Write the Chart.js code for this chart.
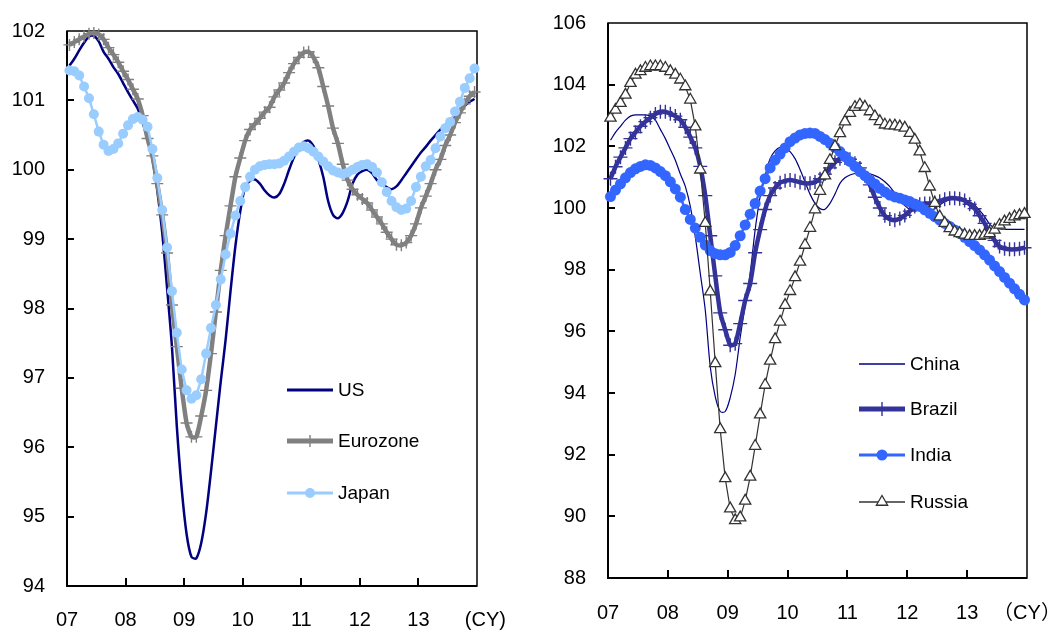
<!DOCTYPE html>
<html>
<head>
<meta charset="utf-8">
<script src="https://cdn.jsdelivr.net/npm/chart.js@4/dist/chart.umd.min.js"></script>
<style>
  body { margin: 0; background: #fff; }
  .panel { position: absolute; top: 0; height: 630px; }
  #left-panel { left: 0; width: 520px; }
  #right-panel { left: 530px; width: 526px; }
</style>
</head>
<body>
<div class="panel" id="left-panel"><canvas id="advanced-chart"></canvas></div>
<div class="panel" id="right-panel"><canvas id="emerging-chart"></canvas></div>
<script>
// x axis: one point per month, Jan 2007 .. Dec 2013
const leftYearLabels = ['07', '08', '09', '10', '11', '12', '13', '   (CY)'];
const rightYearLabels = ['07', '08', '09', '10', '11', '12', '13', '（CY）'];

// Advanced economies
const usValues = [
    101.50, 101.60, 101.72, 101.83, 101.92, 101.93, 101.85, 101.70, 101.60, 101.48, 101.38, 101.25,
    101.12, 101.00, 100.88, 100.68, 100.45, 100.15, 99.70, 99.10, 98.30, 97.45, 96.30, 95.40,
    94.75, 94.42, 94.40, 94.62, 95.05, 95.65, 96.30, 96.95, 97.55, 98.25, 98.90, 99.40,
    99.75, 99.84, 99.86, 99.80, 99.70, 99.63, 99.60, 99.65, 99.80, 100.00, 100.18, 100.32,
    100.40, 100.42, 100.34, 100.15, 99.90, 99.55, 99.35, 99.30, 99.38, 99.55, 99.80, 99.93,
    99.98, 100.00, 99.95, 99.85, 99.80, 99.75, 99.72, 99.76, 99.85, 99.95, 100.05, 100.15,
    100.25, 100.33, 100.42, 100.50, 100.58, 100.64, 100.72, 100.78, 100.85, 100.92, 100.98, 101.02
];
const eurozoneValues = [
    101.80, 101.84, 101.88, 101.92, 101.96, 101.97, 101.95, 101.88, 101.76, 101.66, 101.55, 101.42,
    101.30, 101.16, 101.02, 100.78, 100.45, 100.20, 99.80, 99.35, 98.80, 98.05, 97.45, 96.85,
    96.35, 96.15, 96.15, 96.45, 96.82, 97.35, 97.95, 98.55, 99.05, 99.48, 99.90, 100.17,
    100.42, 100.58, 100.66, 100.74, 100.83, 100.90, 101.05, 101.15, 101.25, 101.40, 101.53, 101.62,
    101.69, 101.70, 101.62, 101.47, 101.20, 100.92, 100.60, 100.38, 100.08, 99.85, 99.72, 99.64,
    99.58, 99.52, 99.42, 99.32, 99.22, 99.10, 99.00, 98.92, 98.91, 98.95, 99.05, 99.22,
    99.45, 99.62, 99.80, 100.00, 100.15, 100.35, 100.50, 100.68, 100.82, 100.95, 101.06, 101.12
];
const japanValues = [
    101.43, 101.42, 101.36, 101.20, 101.03, 100.80, 100.55, 100.36, 100.27, 100.30, 100.38, 100.52,
    100.64, 100.73, 100.76, 100.72, 100.62, 100.30, 99.88, 99.42, 98.88, 98.25, 97.65, 97.12,
    96.82, 96.70, 96.75, 96.98, 97.35, 97.72, 98.05, 98.42, 98.78, 99.08, 99.34, 99.55,
    99.75, 99.90, 100.00, 100.05, 100.07, 100.08, 100.08, 100.09, 100.13, 100.19, 100.26, 100.32,
    100.34, 100.31, 100.26, 100.19, 100.12, 100.05, 99.99, 99.96, 99.94, 99.96, 100.00, 100.04,
    100.07, 100.08, 100.04, 99.96, 99.82, 99.68, 99.55, 99.46, 99.42, 99.44, 99.55, 99.75,
    99.90, 100.05, 100.14, 100.31, 100.48, 100.60, 100.69, 100.84, 100.98, 101.18, 101.32, 101.46
];

// Emerging economies
const chinaValues = [
    102.20, 102.45, 102.65, 102.85, 102.98, 103.02, 103.02, 103.02, 102.98, 102.85, 102.55, 102.25,
    101.90, 101.55, 101.10, 100.70, 100.05, 99.07, 97.88, 96.69, 94.85, 93.88, 93.40, 93.40,
    93.85, 94.60, 95.80, 96.85, 97.88, 99.29, 100.37, 101.05, 101.60, 101.85, 101.97, 101.95,
    101.83, 101.60, 101.25, 100.85, 100.45, 100.15, 99.98, 99.96, 100.15, 100.45, 100.80, 100.98,
    101.07, 101.12, 101.15, 101.14, 101.11, 101.05, 100.97, 100.85, 100.69, 100.48, 100.26, 100.08,
    99.95, 99.94, 99.94, 99.90, 99.88, 99.98, 100.10, 100.20, 100.26, 100.28, 100.28, 100.26,
    100.20, 100.10, 99.92, 99.72, 99.48, 99.36, 99.32, 99.31, 99.31, 99.31, 99.31, 99.31
];
const brazilValues = [
    100.95, 101.34, 101.65, 101.95, 102.25, 102.45, 102.65, 102.80, 102.93, 103.05, 103.12, 103.12,
    103.06, 102.98, 102.86, 102.62, 102.30, 101.95, 101.35, 100.40, 99.10, 97.80, 96.60, 96.05,
    95.55, 95.60, 96.25, 97.00, 97.55, 98.55, 99.30, 99.95, 100.40, 100.65, 100.82, 100.88,
    100.91, 100.88, 100.83, 100.80, 100.80, 100.84, 100.95, 101.10, 101.30, 101.48, 101.60, 101.62,
    101.58, 101.45, 101.30, 101.05, 100.75, 100.35, 100.00, 99.75, 99.64, 99.60, 99.66, 99.76,
    99.90, 100.05, 100.12, 100.15, 100.15, 100.18, 100.22, 100.28, 100.32, 100.32, 100.30, 100.24,
    100.12, 99.98, 99.75, 99.50, 99.22, 98.95, 98.75, 98.68, 98.66, 98.66, 98.68, 98.71
];
const indiaValues = [
    100.37, 100.58, 100.78, 100.98, 101.15, 101.27, 101.35, 101.40, 101.38, 101.30, 101.18, 101.05,
    100.85, 100.62, 100.35, 99.95, 99.63, 99.35, 99.05, 98.80, 98.62, 98.52, 98.48, 98.48,
    98.56, 98.78, 99.10, 99.45, 99.80, 100.15, 100.55, 100.95, 101.30, 101.55, 101.75, 101.95,
    102.15, 102.27, 102.37, 102.42, 102.43, 102.42, 102.32, 102.22, 102.10, 101.97, 101.83, 101.67,
    101.51, 101.35, 101.18, 101.05, 100.91, 100.78, 100.64, 100.52, 100.42, 100.36, 100.32, 100.26,
    100.21, 100.13, 100.05, 99.94, 99.83, 99.72, 99.61, 99.50, 99.40, 99.29, 99.18, 99.05,
    98.91, 98.78, 98.64, 98.48, 98.31, 98.12, 97.94, 97.75, 97.56, 97.38, 97.20, 97.02
];
const russiaValues = [
    102.92, 103.18, 103.40, 103.67, 104.05, 104.32, 104.43, 104.54, 104.59, 104.59, 104.59, 104.54,
    104.43, 104.32, 104.16, 103.94, 103.51, 102.64, 101.24, 99.51, 97.29, 94.96, 92.82, 91.23,
    90.25, 89.87, 89.96, 90.50, 91.28, 92.28, 93.30, 94.26, 95.04, 95.74, 96.31, 96.85,
    97.30, 97.75, 98.25, 98.80, 99.35, 99.95, 100.55, 101.05, 101.55, 102.00, 102.42, 102.80,
    103.08, 103.27, 103.35, 103.28, 103.13, 102.97, 102.81, 102.70, 102.67, 102.67, 102.64, 102.60,
    102.43, 102.21, 101.83, 101.29, 100.69, 100.16, 99.72, 99.51, 99.34, 99.23, 99.18, 99.13,
    99.09, 99.09, 99.09, 99.13, 99.18, 99.29, 99.45, 99.56, 99.64, 99.72, 99.76, 99.80
];

const FONT = '"Liberation Sans", Arial, "Noto Sans CJK JP", sans-serif';

const toPoints = values => values.map((v, i) => ({x: i + 0.5, y: v}));

function drawMarker(ctx, ds, x, y) {
    const r = ds.pointRadius || 0;
    if (!r) return;
    ctx.save();
    ctx.lineWidth = ds.pointBorderWidth || 1;
    ctx.strokeStyle = ds.pointBorderColor || ds.borderColor;
    ctx.fillStyle = ds.pointBackgroundColor || ds.borderColor;
    ctx.beginPath();
    if (ds.pointStyle === 'cross') {
        ctx.moveTo(x - r, y); ctx.lineTo(x + r, y);
        ctx.moveTo(x, y - r); ctx.lineTo(x, y + r);
        ctx.stroke();
    } else if (ds.pointStyle === 'triangle') {
        const edge = 3 * r / Math.sqrt(3);
        const h = edge * Math.sqrt(3) / 2;
        ctx.moveTo(x - edge / 2, y + h / 3);
        ctx.lineTo(x + edge / 2, y + h / 3);
        ctx.lineTo(x, y - 2 * h / 3);
        ctx.closePath();
        ctx.fill(); ctx.stroke();
    } else {
        ctx.arc(x, y, r, 0, Math.PI * 2);
        ctx.fill();
    }
    ctx.restore();
}

// Box round the plot area, with short tick marks pointing inwards
const framePlugin = {
    id: 'frame',
    beforeDatasetsDraw(chart) {
        const {ctx, chartArea: a, scales: {x, y}} = chart;
        ctx.save();
        ctx.strokeStyle = '#000';
        ctx.lineWidth = 1.5;
        ctx.strokeRect(a.left, a.top, a.right - a.left, a.bottom - a.top);
        ctx.lineWidth = 2;
        ctx.beginPath();
        ctx.moveTo(a.left, a.top); ctx.lineTo(a.left, a.bottom); ctx.lineTo(a.right, a.bottom);
        x.ticks.forEach(t => {
            const px = Math.round(x.getPixelForValue(t.value));
            if (px <= a.left + 1 || px >= a.right - 1) return;
            ctx.moveTo(px, a.bottom); ctx.lineTo(px, a.bottom - 8);
        });
        y.ticks.forEach(t => {
            const py = Math.round(y.getPixelForValue(t.value));
            if (py <= a.top + 1 || py >= a.bottom - 1) return;
            ctx.moveTo(a.left, py); ctx.lineTo(a.left + 7, py);
        });
        ctx.stroke();
        ctx.restore();
    }
};

// Legend drawn inside the plot area
const insideLegendPlugin = {
    id: 'insideLegend',
    afterDraw(chart, args, opts) {
        const ctx = chart.ctx;
        chart.data.datasets.forEach((ds, i) => {
            const y = opts.rows[i];
            ctx.save();
            ctx.strokeStyle = ds.borderColor;
            ctx.lineWidth = ds.legendLineWidth || ds.borderWidth;
            ctx.beginPath();
            ctx.moveTo(opts.x1, y);
            ctx.lineTo(opts.x2, y);
            ctx.stroke();
            ctx.restore();
            drawMarker(ctx, ds, (opts.x1 + opts.x2) / 2, y);
            ctx.save();
            ctx.fillStyle = '#000';
            ctx.font = '19px ' + FONT;
            ctx.textBaseline = 'middle';
            ctx.textAlign = 'left';
            ctx.fillText(ds.label, opts.textX, y + 1);
            ctx.restore();
        });
    }
};

function buildOptions(cfg) {
    return {
        responsive: true,
        maintainAspectRatio: false,
        animation: false,
        layout: {padding: {top: cfg.padTop, right: cfg.padRight, left: 0, bottom: 0}},
        plugins: {
            legend: {display: false},
            tooltip: {enabled: false},
            insideLegend: cfg.legend
        },
        elements: {point: {hoverRadius: 0}},
        scales: {
            x: {
                type: 'linear',
                min: 0,
                max: 84,
                afterBuildTicks: scale => {
                    scale.ticks = cfg.xLabels.map((_, i) => ({value: i * 12}));
                },
                afterFit: scale => {
                    scale.height = cfg.xHeight;
                    scale.paddingLeft = 0;
                    scale.paddingRight = 0;
                },
                ticks: {
                    autoSkip: false,
                    maxRotation: 0,
                    padding: cfg.xPad,
                    color: '#000',
                    font: {family: FONT, size: 20},
                    callback: v => cfg.xLabels[Math.round(v / 12)]
                },
                grid: {display: false, drawTicks: false},
                border: {display: false}
            },
            y: {
                min: cfg.yMin,
                max: cfg.yMax,
                afterFit: scale => {
                    scale.width = cfg.yWidth;
                    scale.paddingTop = 0;
                    scale.paddingBottom = 0;
                },
                ticks: {
                    stepSize: cfg.yStep,
                    padding: cfg.yPad,
                    color: '#000',
                    font: {family: FONT, size: 20}
                },
                grid: {display: false, drawTicks: false},
                border: {display: false}
            }
        }
    };
}

new Chart(document.getElementById('advanced-chart'), {
    type: 'line',
    data: {
        datasets: [
            {
                label: 'US', data: toPoints(usValues), order: 3,
                borderColor: '#000080', borderWidth: 2.5, legendLineWidth: 3,
                pointRadius: 0, tension: 0.3, clip: false
            },
            {
                label: 'Eurozone', data: toPoints(eurozoneValues), order: 2,
                borderColor: '#808080', borderWidth: 4.5, legendLineWidth: 5,
                pointStyle: 'cross', pointRadius: 6, pointBorderWidth: 1.4,
                pointBorderColor: '#808080', tension: 0.2, clip: false
            },
            {
                label: 'Japan', data: toPoints(japanValues), order: 1,
                borderColor: '#99CCFF', borderWidth: 2.5, legendLineWidth: 3,
                pointStyle: 'circle', pointRadius: 5, pointBorderWidth: 0,
                pointBackgroundColor: '#99CCFF', pointBorderColor: '#99CCFF',
                tension: 0, clip: false
            }
        ]
    },
    options: buildOptions({
        padTop: 31, padRight: 43, xHeight: 44, yWidth: 67, xPad: 22, yPad: 22,
        yMin: 94, yMax: 102, yStep: 1, xLabels: leftYearLabels,
        legend: {x1: 287, x2: 333, textX: 338, rows: [390, 441, 493]}
    }),
    plugins: [framePlugin, insideLegendPlugin]
});

new Chart(document.getElementById('emerging-chart'), {
    type: 'line',
    data: {
        datasets: [
            {
                label: 'China', data: toPoints(chinaValues), order: 4,
                borderColor: '#000080', borderWidth: 1.2, legendLineWidth: 1.5,
                pointRadius: 0, tension: 0.3, clip: false
            },
            {
                label: 'Brazil', data: toPoints(brazilValues), order: 3,
                borderColor: '#333399', borderWidth: 4.5, legendLineWidth: 5,
                pointStyle: 'cross', pointRadius: 7, pointBorderWidth: 1.4,
                pointBorderColor: '#333399', tension: 0.2, clip: false
            },
            {
                label: 'India', data: toPoints(indiaValues), order: 2,
                borderColor: '#3366FF', borderWidth: 2.5, legendLineWidth: 3,
                pointStyle: 'circle', pointRadius: 5.5, pointBorderWidth: 0,
                pointBackgroundColor: '#3366FF', pointBorderColor: '#3366FF',
                tension: 0, clip: false
            },
            {
                label: 'Russia', data: toPoints(russiaValues), order: 1,
                borderColor: '#333333', borderWidth: 1.2, legendLineWidth: 1.5,
                pointStyle: 'triangle', pointRadius: 6.5, pointBorderWidth: 1.3,
                pointBackgroundColor: '#FFFFFF', pointBorderColor: '#333333',
                tension: 0, clip: false
            }
        ]
    },
    options: buildOptions({
        padTop: 23, padRight: 29, xHeight: 52, yWidth: 78, xPad: 23, yPad: 22,
        yMin: 88, yMax: 106, yStep: 2, xLabels: rightYearLabels,
        legend: {x1: 329, x2: 375, textX: 380, rows: [364, 409, 455, 502]}
    }),
    plugins: [framePlugin, insideLegendPlugin]
});
</script>
</body>
</html>
